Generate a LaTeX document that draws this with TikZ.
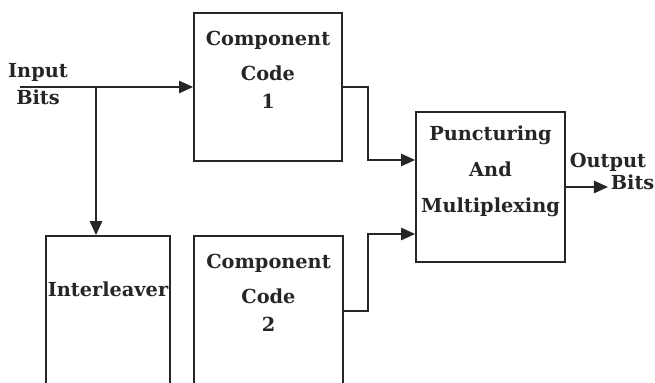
\documentclass[tikz,border=0pt]{standalone}
\usepackage{fontspec}
\setmainfont{DejaVu Serif}
\usetikzlibrary{positioning,arrows.meta}
\begin{document}
\begin{tikzpicture}[line width=1pt, color=black!85, >={Triangle[length=8pt,width=7pt]},
    every node/.style={font=\fontsize{11}{18}\selectfont\bfseries},
    blk/.style={draw, rectangle, minimum width=2.96cm, minimum height=2.96cm},
    txt/.style={align=center, inner sep=0pt}]
    \useasboundingbox (0,0) rectangle (13.1,7.66);

    % Blocs
    \node[blk] (cc1) at (5.36,5.92) {};
    \node[blk, minimum width=2.48cm, minimum height=3.0cm] (inter) at (2.16,1.44) {};
    \node[blk, minimum width=2.98cm, minimum height=3.0cm] (cc2) at (5.37,1.44) {};
    \node[blk, minimum width=2.98cm, minimum height=3.0cm] (punct) at (9.81,3.92) {};

    % Textes des blocs
    \node[txt, below=0.36 of cc1.north] (cc1txt) {Component\\[2pt]Code\\[-2pt]1};
    \node[txt, below=0.36 of cc2.north] (cc2txt) {Component\\[2pt]Code\\[-2pt]2};
    \node[txt, below=0.92 of inter.north] (intertxt) {Interleaver};
    \node[txt, below=0.28 of punct.north, font=\fontsize{11}{20.4}\selectfont\bfseries] (puncttxt) {Puncturing\\And\\Multiplexing};

    % Entree
    \coordinate (in) at (0.40,5.92);
    \coordinate (split) at (1.92,5.92);
    \node[txt, font=\fontsize{11}{15.3}\selectfont\bfseries] (inlbl) at (0.76,5.97) {Input\\Bits};
    \draw[->] (in) -- (cc1.west);
    \draw[->] (split) -- (split |- inter.north);

    % Vers le multiplexeur
    \draw[->] (cc1.east) -- ++(0.5,0) |- ([yshift=0.54cm]punct.west);
    \draw[->] (cc2.east) -- ++(0.48,0) |- ([yshift=-0.94cm]punct.west);

    % Sortie
    \coordinate (outend) at (12.16,3.92);
    \draw[->] (punct.east) -- (outend);
    \node[txt, anchor=base west] (outbits) at ([xshift=0.04cm,yshift=-0.06cm]outend) {Bits};
    \node[txt, anchor=base west] (outlbl) at ([xshift=0.06cm,yshift=0.38cm]punct.east) {Output};
\end{tikzpicture}
\end{document}
